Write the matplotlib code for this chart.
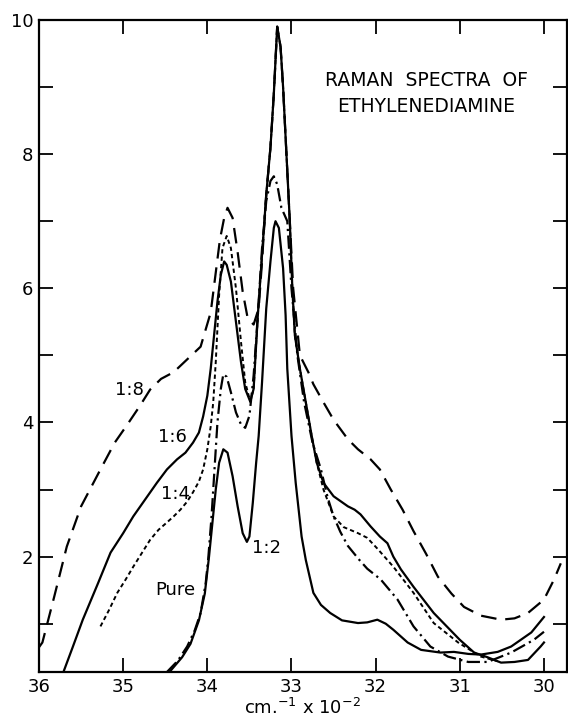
import matplotlib.pyplot as plt
import numpy as np

# wavenumber (cm^-1 x 10^-2) and relative intensity
pure_x = [34.48, 34.35, 34.24, 34.15, 34.08, 34.02, 33.99, 33.95, 33.92, 33.88, 33.84, 33.81,
          33.77, 33.72, 33.66, 33.60, 33.55, 33.50, 33.45, 33.40, 33.35, 33.30, 33.25, 33.21,
          33.17, 33.12, 33.05, 33.00, 32.93, 32.85, 32.75, 32.65, 32.57, 32.50, 32.42, 32.33,
          32.20, 32.10, 31.94, 31.74, 31.55, 31.35, 31.14, 30.90, 30.67, 30.39, 30.12, 30.00]
pure_y = [0.28, 0.45, 0.66, 0.90, 1.16, 1.60, 1.96, 2.60, 3.20, 4.00, 4.50, 4.72,
          4.68, 4.45, 4.15, 3.97, 3.92, 4.10, 4.70, 5.60, 6.60, 7.30, 7.60, 7.67,
          7.55, 7.20, 7.00, 6.00, 5.00, 4.30, 3.70, 3.30, 2.88, 2.60, 2.37, 2.16,
          1.96, 1.82, 1.66, 1.36, 0.96, 0.66, 0.51, 0.43, 0.43, 0.57, 0.76, 0.88]

r12_x = [34.45, 34.30, 34.20, 34.10, 34.03, 33.98, 33.94, 33.90, 33.86, 33.81, 33.76, 33.70,
         33.64, 33.58, 33.53, 33.50, 33.46, 33.42, 33.39, 33.35, 33.30, 33.25, 33.21, 33.19,
         33.15, 33.10, 33.07, 33.05, 33.00, 32.95, 32.88, 32.83, 32.74, 32.65, 32.54, 32.40,
         32.21, 32.10, 31.98, 31.88, 31.79, 31.62, 31.46, 31.23, 31.07, 30.90, 30.75, 30.55,
         30.39, 30.15, 30.00]
r12_y = [0.28, 0.50, 0.70, 1.05, 1.45, 2.00, 2.50, 3.00, 3.40, 3.60, 3.55, 3.20,
         2.75, 2.35, 2.22, 2.30, 2.80, 3.40, 3.80, 4.60, 5.70, 6.40, 6.90, 7.00,
         6.90, 6.30, 5.60, 4.80, 3.80, 3.10, 2.30, 1.95, 1.46, 1.28, 1.16, 1.05,
         1.01, 1.02, 1.06, 1.00, 0.91, 0.72, 0.61, 0.57, 0.58, 0.55, 0.54, 0.58,
         0.66, 0.87, 1.10]

r14_x = [35.27, 35.17, 35.07, 34.97, 34.88, 34.78, 34.68, 34.58, 34.48, 34.40, 34.32, 34.24,
         34.17, 34.10, 34.05, 34.00, 33.96, 33.93, 33.90, 33.86, 33.82, 33.77, 33.72, 33.66,
         33.60, 33.55, 33.49, 33.45, 33.40, 33.35, 33.30, 33.25, 33.21, 33.17, 33.13, 33.10,
         33.06, 33.02, 32.99, 32.96, 32.90, 32.83, 32.76, 32.70, 32.62, 32.50, 32.38, 32.21,
         32.10, 31.98, 31.79, 31.55, 31.31, 31.02, 30.75, 30.55]
r14_y = [0.96, 1.20, 1.46, 1.66, 1.85, 2.05, 2.25, 2.40, 2.51, 2.60, 2.70, 2.82,
         2.96, 3.12, 3.30, 3.60, 3.94, 4.30, 4.90, 5.90, 6.60, 6.78, 6.60, 6.00,
         5.20, 4.60, 4.31, 4.50, 5.60, 6.50, 7.40, 8.10, 8.90, 9.90, 9.60, 9.00,
         8.00, 7.00, 6.00, 5.30, 4.80, 4.30, 3.80, 3.40, 3.00, 2.60, 2.44, 2.35,
         2.28, 2.12, 1.85, 1.46, 1.01, 0.72, 0.51, 0.44]

r16_x = [35.71, 35.60, 35.48, 35.30, 35.15, 35.00, 34.88, 34.74, 34.60, 34.48, 34.36, 34.26,
         34.17, 34.10, 34.05, 34.00, 33.96, 33.92, 33.88, 33.84, 33.80, 33.77, 33.72, 33.66,
         33.60, 33.55, 33.49, 33.45, 33.40, 33.35, 33.30, 33.25, 33.21, 33.17, 33.13, 33.10,
         33.06, 33.02, 32.99, 32.96, 32.90, 32.83, 32.76, 32.70, 32.62, 32.50, 32.33, 32.25,
         32.18, 32.06, 31.95, 31.86, 31.79, 31.70, 31.55, 31.31, 31.00, 30.83, 30.67, 30.51,
         30.35, 30.19, 30.04, 30.00]
r16_y = [0.28, 0.65, 1.06, 1.60, 2.06, 2.35, 2.60, 2.85, 3.10, 3.30, 3.45, 3.55,
         3.70, 3.85, 4.09, 4.40, 4.80, 5.30, 5.80, 6.20, 6.40, 6.35, 6.10, 5.50,
         4.90, 4.50, 4.31, 4.50, 5.60, 6.50, 7.40, 8.10, 8.90, 9.90, 9.60, 9.00,
         8.00, 7.00, 6.00, 5.30, 4.80, 4.30, 3.80, 3.40, 3.10, 2.90, 2.75, 2.70,
         2.63, 2.45, 2.30, 2.20, 2.00, 1.81, 1.55, 1.16, 0.76, 0.57, 0.50, 0.42,
         0.43, 0.46, 0.66, 0.72]

r18_x = [36.00, 35.96, 35.82, 35.67, 35.50, 35.27, 35.10, 34.95, 34.80, 34.68, 34.55, 34.40,
         34.24, 34.08, 33.96, 33.85, 33.80, 33.76, 33.70, 33.64, 33.58, 33.52, 33.45, 33.39,
         33.35, 33.30, 33.25, 33.21, 33.17, 33.13, 33.10, 33.06, 33.02, 32.98, 32.90, 32.80,
         32.74, 32.62, 32.50, 32.33, 32.21, 32.06, 31.95, 31.82, 31.68, 31.55, 31.40, 31.26,
         31.10, 30.95, 30.75, 30.51, 30.35, 30.19, 30.00, 29.88, 29.80]
r18_y = [0.65, 0.72, 1.40, 2.15, 2.75, 3.30, 3.70, 3.97, 4.25, 4.49, 4.65, 4.75,
         4.94, 5.13, 5.64, 6.73, 7.05, 7.20, 7.05, 6.54, 5.95, 5.55, 5.46, 5.70,
         6.40, 7.40, 8.10, 8.90, 9.90, 9.60, 9.00, 8.00, 7.00, 6.00, 5.00, 4.75,
         4.57, 4.30, 4.04, 3.75, 3.60, 3.45, 3.30, 3.00, 2.70, 2.38, 2.04, 1.70,
         1.45, 1.25, 1.12, 1.06, 1.08, 1.16, 1.36, 1.66, 1.90]

curve_labels = ["1:8", "1:6", "1:4", "Pure", "1:2"]
label_x = [34.92, 34.42, 34.38, 34.38, 33.30]
label_y = [4.49, 3.78, 2.93, 1.51, 2.13]

fig = plt.figure(figsize=(5.68, 7.24), dpi=100)
ax = fig.add_axes([0.0687, 0.0718, 0.929, 0.9006])

ax.plot(r18_x, r18_y, color="black", lw=1.6, ls=(0, (7, 4)))
ax.plot(r16_x, r16_y, color="black", lw=1.6, ls="-")
ax.plot(r14_x, r14_y, color="black", lw=1.4, ls=(0, (2.2, 1.6)))
ax.plot(pure_x, pure_y, color="black", lw=1.6, ls=(0, (6, 2, 1, 2)))
ax.plot(r12_x, r12_y, color="black", lw=1.6, ls="-")

for t, x, y in zip(curve_labels, label_x, label_y):
    ax.text(x, y, t, fontsize=13, ha="center", va="center")

ax.text(31.4, 8.9, "RAMAN  SPECTRA  OF\nETHYLENEDIAMINE", fontsize=13.5,
        ha="center", va="center", linespacing=1.45)

ax.set_xlim(36, 29.73)
ax.set_ylim(0.28, 10)
ax.set_xticks(np.arange(30, 37, 1))
ax.set_xticklabels([str(v) for v in range(30, 37)])
ax.set_yticks(np.arange(1, 11, 1))
ax.set_yticklabels(["" if v % 2 else str(v) for v in range(1, 11)])
ax.tick_params(direction="in", length=10, width=1.3, top=True, right=True,
               labelsize=13, pad=4)
for s in ax.spines.values():
    s.set_linewidth(1.6)

ax.set_xlabel(r"cm.$^{-1}$ x 10$^{-2}$", fontsize=13, labelpad=2)

fig.savefig("out.png", dpi=100)
